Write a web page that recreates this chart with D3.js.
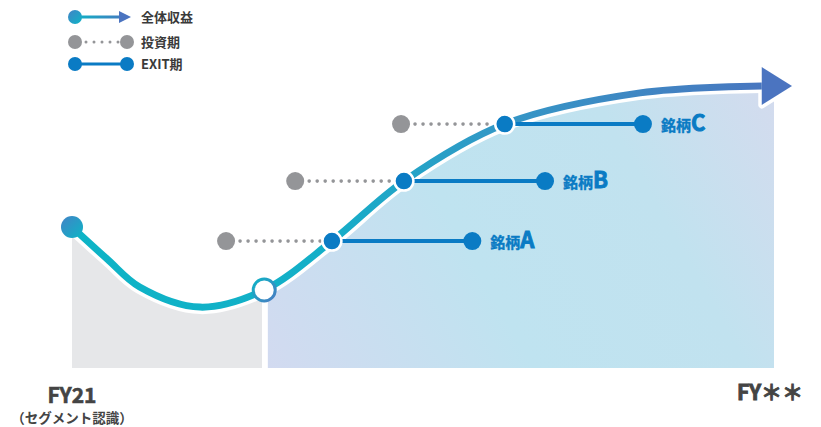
<!DOCTYPE html>
<html>
<head>
<meta charset="utf-8">
<script src="https://cdn.jsdelivr.net/npm/d3@7"></script>
<style>
  body { margin: 0; background: #fff; }
  svg { display: block; font-family: "Noto Sans CJK JP", "Noto Sans", sans-serif; }
</style>
</head>
<body>
<svg id="chart" width="821" height="427"></svg>
<script>
// 全体収益カーブ (x: 0=FY21 .. 100=FY**, y: 相対値)
const curveX = [0, 4.9, 9.4, 17.8, 26.7, 36.1, 46.1, 60.1, 78.9, 95.8];
const curveY = [47, 36.3, 27, 20.3, 26, 42.3, 62.3, 81.3, 91.7, 94];
const arrowTip = { x: 100, y: 94 };
const segmentX = 26.7;   // セグメント認識ポイント

// 銘柄ごとの投資期・EXIT期
const stockNames = ["A", "B", "C"];
const stockY = [42.3, 62.3, 81.3];
const investX = [21.4, 31.0, 45.7];
const exitX = [36.1, 46.1, 60.1];
const endX = [55.6, 65.7, 79.3];

const grayEnd = 26.4, blueStart = 27.2, blueEnd = 97.5;

const legendItems = ["全体収益", "投資期", "EXIT期"];
const xLabels = ["FY21", "FY＊＊"];

const width = 821, height = 427;
const svg = d3.select("#chart");
const x = d3.scaleLinear().domain([0, 100]).range([72, 792]);
const y = d3.scaleLinear().domain([0, 100]).range([368, 68]);

const blue = "#0a7bc4", gray = "#949598";

const pts = curveX.map((d, i) => ({ x: d, y: curveY[i] }));
const areaPts = pts.concat([arrowTip]);

const defs = svg.append("defs");
function grad(id, stops, attrs) {
  const g = defs.append("linearGradient").attr("id", id);
  Object.entries(attrs).forEach(([k, v]) => g.attr(k, v));
  stops.forEach(s => g.append("stop").attr("offset", s[0]).attr("stop-color", s[1]));
}
grad("lineGrad", [[0, "#0db4c6"], [0.35, "#14afc8"], [0.6, "#3497c6"], [1, "#4b73bf"]],
  { gradientUnits: "userSpaceOnUse", x1: x(0), x2: x(100), y1: 0, y2: 0 });
grad("areaGrad", [[0, "#d2daf0"], [0.4, "#bfe3f0"], [0.72, "#c1e2ef"], [1, "#d4dbee"]],
  { gradientUnits: "userSpaceOnUse", x1: x(blueStart), y1: y(0), x2: x(blueEnd), y2: y(95) });
grad("dotGrad", [[0, "#4283c6"], [1, "#0db4c6"]], { x1: 0, y1: 0, x2: 1, y2: 1 });
grad("ringGrad", [[0, "#0db4c6"], [1, "#4a7cc2"]], { x1: 0, y1: 0, x2: 1, y2: 1 });
grad("legGrad", [[0, "#0db4c6"], [1, "#4b73bf"]], { gradientUnits: "userSpaceOnUse", x1: 75, x2: 130, y1: 0, y2: 0 });

defs.append("clipPath").attr("id", "clipGray").append("rect")
  .attr("x", x(0)).attr("y", 0).attr("width", x(grayEnd) - x(0)).attr("height", height);
defs.append("clipPath").attr("id", "clipBlue").append("rect")
  .attr("x", x(blueStart)).attr("y", 0).attr("width", x(blueEnd) - x(blueStart)).attr("height", height);

// 背景エリア
const area = d3.area().x(d => x(d.x)).y0(y(0)).y1(d => y(d.y)).curve(d3.curveCatmullRom.alpha(0.5));
svg.append("path").attr("d", area(areaPts)).attr("fill", "#e6e7e9").attr("clip-path", "url(#clipGray)");
svg.append("path").attr("d", area(areaPts)).attr("fill", "url(#areaGrad)").attr("clip-path", "url(#clipBlue)");

// 全体収益カーブ
const line = d3.line().x(d => x(d.x)).y(d => y(d.y)).curve(d3.curveCatmullRom.alpha(0.5));
const last = pts[pts.length - 1];
const arrowPts = [[x(last.x), y(last.y) - 19], [x(arrowTip.x), y(arrowTip.y)], [x(last.x), y(last.y) + 19]];

svg.append("path").attr("d", line(pts)).attr("fill", "none").attr("stroke", "#fff").attr("stroke-width", 14);
svg.append("polygon").attr("points", arrowPts.join(" ")).attr("fill", "#fff").attr("stroke", "#fff").attr("stroke-width", 7).attr("stroke-linejoin", "round");
svg.append("path").attr("d", line(pts)).attr("fill", "none").attr("stroke", "url(#lineGrad)").attr("stroke-width", 7);
svg.append("polygon").attr("points", arrowPts.join(" ")).attr("fill", "#4b74c0");

// 銘柄
stockNames.forEach((name, i) => {
  const cy = y(stockY[i]);
  svg.append("line").attr("x1", x(investX[i]) + 14).attr("x2", x(exitX[i]) - 10).attr("y1", cy).attr("y2", cy)
    .attr("stroke", gray).attr("stroke-width", 3.6).attr("stroke-linecap", "round").attr("stroke-dasharray", "0 8");
  svg.append("circle").attr("cx", x(investX[i])).attr("cy", cy).attr("r", 9).attr("fill", gray);
  svg.append("line").attr("x1", x(exitX[i])).attr("x2", x(endX[i])).attr("y1", cy).attr("y2", cy)
    .attr("stroke", blue).attr("stroke-width", 4);
  svg.append("circle").attr("cx", x(exitX[i])).attr("cy", cy).attr("r", 9.5).attr("fill", blue)
    .attr("stroke", "#fff").attr("stroke-width", 2.5);
  svg.append("circle").attr("cx", x(endX[i])).attr("cy", cy).attr("r", 9).attr("fill", blue);
  const t = svg.append("text").attr("x", x(endX[i]) + 18).attr("y", cy + 7)
    .attr("fill", blue).attr("font-weight", "bold").attr("stroke", blue).attr("stroke-width", 0.4);
  t.append("tspan").attr("font-size", 15).text("銘柄");
  t.append("tspan").attr("font-size", 22).attr("stroke-width", 0.9).text(name);
});

// 始点・セグメント認識ポイント
svg.append("circle").attr("cx", x(pts[0].x)).attr("cy", y(pts[0].y)).attr("r", 11).attr("fill", "url(#dotGrad)");
const seg = pts.find(d => d.x === segmentX);
svg.append("circle").attr("cx", x(seg.x)).attr("cy", y(seg.y)).attr("r", 11).attr("fill", "#fff")
  .attr("stroke", "url(#ringGrad)").attr("stroke-width", 3);

// 凡例
const legY = [17, 42, 64];
const lx0 = 75, lx1 = 127;
const leg = svg.append("g");
leg.append("line").attr("x1", lx0).attr("x2", lx1 - 6).attr("y1", legY[0]).attr("y2", legY[0])
  .attr("stroke", "url(#legGrad)").attr("stroke-width", 3);
leg.append("polygon").attr("points", [[lx1 - 8, legY[0] - 6], [lx1 + 4, legY[0]], [lx1 - 8, legY[0] + 6]].join(" ")).attr("fill", "#4b74c0");
leg.append("circle").attr("cx", lx0).attr("cy", legY[0]).attr("r", 7).attr("fill", "url(#dotGrad)");

leg.append("line").attr("x1", lx0 + 11).attr("x2", lx1 - 8).attr("y1", legY[1]).attr("y2", legY[1])
  .attr("stroke", gray).attr("stroke-width", 3).attr("stroke-linecap", "round").attr("stroke-dasharray", "0 8");
leg.append("circle").attr("cx", lx0).attr("cy", legY[1]).attr("r", 7).attr("fill", gray);
leg.append("circle").attr("cx", lx1).attr("cy", legY[1]).attr("r", 7).attr("fill", gray);

leg.append("line").attr("x1", lx0).attr("x2", lx1).attr("y1", legY[2]).attr("y2", legY[2])
  .attr("stroke", blue).attr("stroke-width", 3);
leg.append("circle").attr("cx", lx0).attr("cy", legY[2]).attr("r", 7).attr("fill", blue);
leg.append("circle").attr("cx", lx1).attr("cy", legY[2]).attr("r", 7).attr("fill", blue);

leg.selectAll("text").data(legendItems).enter().append("text")
  .attr("x", 141).attr("y", (d, i) => legY[i] + 5)
  .attr("font-size", 13).attr("font-weight", "bold").attr("fill", "#3a3a3a").text(d => d);

// X軸ラベル
svg.append("text").attr("x", x(0)).attr("y", 403).attr("text-anchor", "middle")
  .attr("font-size", 21).attr("font-weight", "bold").attr("fill", "#444").attr("stroke", "#444").attr("stroke-width", 0.6).text(xLabels[0]);
svg.append("text").attr("x", x(0)).attr("y", 423).attr("text-anchor", "middle")
  .attr("font-size", 13.5).attr("font-weight", "bold").attr("fill", "#444").text("（セグメント認識）");
svg.append("text").attr("x", 770).attr("y", 400).attr("text-anchor", "middle")
  .attr("font-size", 21).attr("font-weight", "bold").attr("fill", "#444").attr("stroke", "#444").attr("stroke-width", 0.9).text(xLabels[1]);
</script>
</body>
</html>
